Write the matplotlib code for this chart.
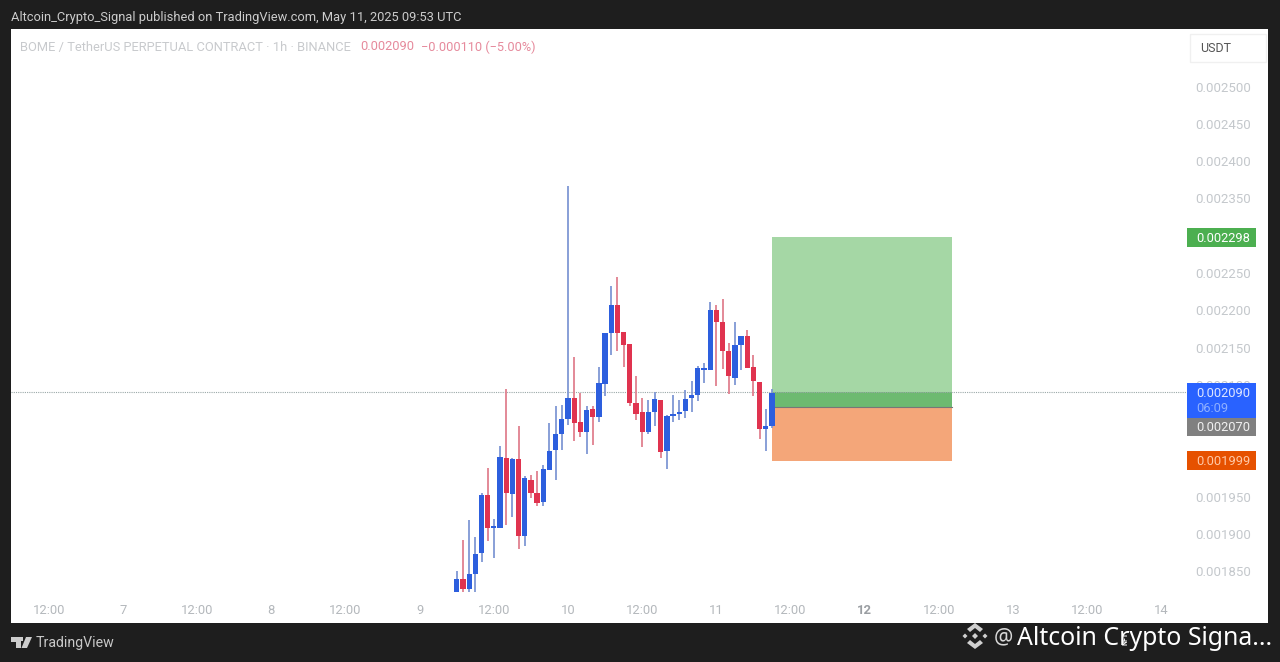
import numpy as np
import matplotlib
matplotlib.use("Agg")
import matplotlib.pyplot as plt
from matplotlib.patches import Polygon, Rectangle

plt.rcParams['font.family'] = ['Roboto', 'DejaVu Sans']

# hourly candles, prices in millionths of USDT, first candle is May 9 06:00
opens = [1822.6, 1840, 1826.6, 1847, 1874.4, 1952.6, 1908.8, 1908.8, 2002.2, 1953.9, 2001.3, 1897.6, 1973.2,
         1955.3, 1942.8, 1986.6, 2012.9, 2034.8, 2054.5, 2082.6, 2050, 2037.1, 2068.3, 2057.2, 2101.9, 2169.8,
         2207.3, 2171.6, 2155, 2075.9, 2063.4, 2037.5, 2063.9, 2080.4, 2012, 2058.5, 2061.6, 2065.2, 2082.2,
         2087.1, 2120.6, 2120.6, 2200.6, 2184, 2146, 2109.9, 2154.1, 2166.2, 2123.8, 2104.1, 2041.5, 2044.7]
closes = [1840, 1827, 1847, 1873.5, 1952.6, 1908.8, 1909.7, 2003.1, 1955.3, 2001.3, 1898.1, 1974.9, 1955.3,
          1941.9, 1987.5, 2012, 2034.8, 2054, 2082.6, 2049.1, 2037.5, 2067, 2057.2, 2102.8, 2169.3, 2207.3,
          2170.2, 2153.2, 2075.9, 2061.6, 2037.5, 2063.9, 2081.7, 2010.3, 2058.5, 2061.6, 2064.3, 2081.3, 2086.7,
          2122.4, 2122, 2200.6, 2184, 2146, 2112.1, 2154.1, 2166.2, 2123.3, 2105, 2041.1, 2044.7, 2089.3]
highs = [1850.3, 1892.7, 1919.5, 1896.3, 1955.3, 1988.8, 1920.9, 2017.8, 2094.7, 2002.2, 2045.5, 1978.5, 1979.9,
         1984.3, 1993.3, 2049.1, 2072.3, 2073.7, 2366.4, 2137.2, 2089.3, 2071.5, 2071.5, 2123.8, 2169.3, 2232.3,
         2244.4, 2171.6, 2155, 2112.6, 2082.6, 2080.4, 2090.7, 2080.4, 2060.3, 2087.1, 2080.4, 2093.8, 2105,
         2125.1, 2129.6, 2210.9, 2207.7, 2215.8, 2156.4, 2184.5, 2166.2, 2174.2, 2140.7, 2104.1, 2068.3, 2094.7]
lows = [1822, 1822, 1822, 1822, 1862.4, 1890.5, 1868.2, 1908.8, 1911.9, 1922.7, 1880.7, 1884.7, 1948.6,
        1938.3, 1938.3, 1986.6, 1973.2, 2013.4, 2046.9, 2025.5, 2030.4, 2008, 2020.1, 2050.5, 2084.9, 2140.7,
        2145.2, 2123.8, 2071.5, 2052.7, 2016.5, 2034.8, 2044.7, 2002.2, 1987.5, 2050.5, 2053.6, 2055.8, 2063.4,
        2078.2, 2102.8, 2120.6, 2099.2, 2121.5, 2088, 2100.5, 2119.7, 2123.3, 2084.9, 2027.7, 2011.2, 2042.4]
first_hour = 6  # hours after May 9 00:00

price_ticks = [1850, 1900, 1950, 2000, 2050, 2100, 2150, 2200, 2250, 2300, 2350, 2400, 2450, 2500]
time_ticks = [-60, -48, -36, -24, -12, 0, 12, 24, 36, 48, 60, 72, 84, 96, 108, 120]
time_labels = ['12:00', '7', '12:00', '8', '12:00', '9', '12:00', '10', '12:00', '11', '12:00', '12', '12:00',
               '13', '12:00', '14']

target = 2298
entry = 2070
stop = 1998.6
last = 2090

HOUR_PX = 6.18


def px_x(px):
    return (px - 419.7) / HOUR_PX


def px_y(px):
    return 2616.0 - 1.3405 * px


def fmt(p):
    return '%.6f' % (p * 1e-6)


fig = plt.figure(figsize=(12.8, 6.62), dpi=100, facecolor='#1e1e1e')
ax = fig.add_axes([11 / 1280, 1 - 623 / 662, (1268 - 11) / 1280, (623 - 29) / 662])
ax.set_facecolor('white')
ax.set_xlim(px_x(11), px_x(1268))
ax.set_ylim(px_y(623), px_y(29))
for s in ax.spines.values():
    s.set_visible(False)

# long position box
box_start = first_hour + len(opens) - 1
box_w = px_x(951.5) - box_start
ax.add_patch(Rectangle((box_start, entry), box_w, target - entry, fc='#a5d7a5', ec='none', zorder=1))
ax.add_patch(Rectangle((box_start, entry), box_w, last - entry, fc='#6dba70', ec='none', zorder=1.1))
ax.add_patch(Rectangle((box_start, stop), box_w, entry - stop, fc='#f4a679', ec='none', zorder=1))
ax.plot([box_start, box_start + box_w], [entry, entry], color='#777777', lw=0.8, zorder=1.2)

ax.plot([px_x(11), px_x(1187)], [last, last], color='#9aa8a8', lw=0.8, ls=(0, (1, 1)), zorder=1.3)

# candles
x = first_hour + np.arange(len(opens))
o, c, h, l = map(np.array, (opens, closes, highs, lows))
up = c >= o
ax.vlines(x[up], l[up], h[up], color='#7f97d4', lw=1.3, zorder=2)
ax.vlines(x[~up], l[~up], h[~up], color='#e0808f', lw=1.3, zorder=2)
ax.bar(x[up], np.maximum(c[up] - o[up], 1.5), bottom=o[up], width=0.85, color='#2d5fde', zorder=3)
ax.bar(x[~up], np.maximum(o[~up] - c[~up], 1.5), bottom=c[~up], width=0.85, color='#e0334f', zorder=3)

# axes labels sit inside the white panel
ax.yaxis.tick_right()
ax.set_yticks(price_ticks)
ax.set_yticklabels([fmt(p) for p in price_ticks])
ax.tick_params(axis='y', length=0, pad=-52.2, labelsize=9.5, labelcolor='#c4c8cc')
ax.set_xticks(time_ticks)
ax.set_xticklabels(time_labels)
ax.tick_params(axis='x', length=0, pad=-14, labelsize=9.4, labelcolor='#b4b8bc')
for lab, txt in zip(ax.get_xticklabels(), time_labels):
    if txt == '12':
        lab.set_fontweight('bold')
        lab.set_color('#9a9ea2')

# price tags
tag_x = px_x(1187)
tag_w = px_x(1256) - tag_x
text_x = px_x(1196)


def tag(top_px, bottom_px, color):
    ax.add_patch(Rectangle((tag_x, px_y(bottom_px)), tag_w, px_y(top_px) - px_y(bottom_px), fc=color, ec='none', zorder=5))


def tag_text(px, txt, color='white'):
    ax.text(text_x, px_y(px), txt, color=color, fontsize=9.3, ha='left', va='center', zorder=6)


tag(228, 247, '#4caf50')
tag_text(238, fmt(target))
tag(383, 418, '#2962ff')
tag_text(393, fmt(last), '#dfe7ff')
tag_text(408, '06:09', '#8fb0ff')
tag(418, 436, '#808080')
tag_text(427, fmt(entry), '#f0f0f0')
tag(451, 470, '#e65100')
tag_text(461, fmt(round(stop)), '#ffc9a8')

# everything else is placed in pixels on a full figure overlay
ov = fig.add_axes([0, 0, 1, 1], facecolor='none', zorder=10)
ov.set_xlim(0, 1280)
ov.set_ylim(662, 0)
ov.axis('off')

ov.text(11, 17, 'Altcoin_Crypto_Signal published on TradingView.com, May 11, 2025 09:53 UTC',
        color='#cccccc', fontsize=9.28, va='center')
ov.text(20, 47, 'BOME / TetherUS PERPETUAL CONTRACT · 1h · BINANCE', color='#c8cacd', fontsize=9.3, va='center')
ov.text(360, 47, fmt(last), color='#e68a9c', fontsize=9.3, va='center')
ov.text(421, 47, '−0.000110 (−5.00%)', color='#e68a9c', fontsize=9.2, va='center')

ov.add_patch(Rectangle((1190, 34), 76, 28, fc='white', ec='#f0f0f0', lw=1))
ov.text(1216, 48, 'USDT', color='#555555', fontsize=9, ha='center', va='center')

# TradingView mark
ov.add_patch(Polygon([(11, 637), (21, 637), (21, 648), (16, 648), (16, 642), (11, 642)], fc='#cccccc', ec='none'))
ov.add_patch(Rectangle((19.5, 637), 3.5, 3.5, fc='#cccccc', ec='none'))
ov.add_patch(Polygon([(26, 637), (32, 637), (27, 648), (21.5, 648)], fc='#cccccc', ec='none'))
ov.text(36, 643, 'TradingView', color='#c8c8c8', fontsize=10.15, va='center')

# watermark logo: two chevrons, centre diamond and side dots
ov.add_patch(Polygon([(967, 629), (975, 623), (983, 629), (980, 632), (975, 628), (970, 632)], fc='#d0d0d0', ec='none'))
ov.add_patch(Polygon([(967, 643), (975, 649), (983, 643), (980, 640), (975, 644), (970, 640)], fc='#d0d0d0', ec='none'))
for cx, cy, r in [(965, 636, 2.5), (985, 636, 2.5), (975, 636, 3)]:
    ov.add_patch(Polygon([(cx - r, cy), (cx, cy - r), (cx + r, cy), (cx, cy + r)], fc='#d0d0d0', ec='none'))
ov.text(994, 638, '@', color='#d8d8d8', fontsize=15.5, va='center', family=['Noto Sans', 'DejaVu Sans'])
ov.text(1017, 638.5, 'Altcoin Crypto Signa...', color='white', fontsize=17.9, va='center',
        family=['Noto Sans', 'DejaVu Sans'])
ov.add_patch(Rectangle((1121, 631), 9, 14, fc='#1e1e1e', ec='none'))
ov.text(1125.5, 638, 'NFT', color='white', fontsize=5, rotation=90, ha='center', va='center', fontweight='bold')

fig.savefig('out.png', dpi=100, facecolor=fig.get_facecolor())
